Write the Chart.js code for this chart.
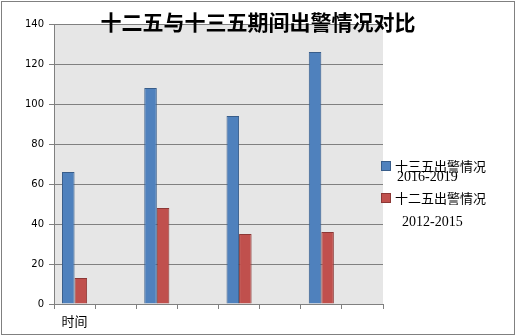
<!DOCTYPE html>
<html lang="zh-cn">
<head>
    <meta charset="UTF-8">
    <title>十二五与十三五期间出警情况对比</title>
    <script src="https://cdn.jsdelivr.net/npm/chart.js"></script>
    <style>
        html, body { margin: 0; padding: 0; background: #fff; }
        #box { width: 516px; height: 336px; }
    </style>
</head>
<body>
    <div id="box"><canvas id="grafico" width="516" height="336"></canvas></div>
<script>
    const titulo = '十二五与十三五期间出警情况对比'
    const categorias = ['时间', '', '', '', '', '', '', '']
    const shisanwu = [66, null, 108, null, 94, null, 126, null]
    const shierwu = [13, null, 48, null, 35, null, 36, null]
    const nomeSerie1 = '十三五出警情况'
    const anosSerie1 = '2016-2019'
    const nomeSerie2 = '十二五出警情况'
    const anosSerie2 = '2012-2015'
    const ticksY = [0, 20, 40, 60, 80, 100, 120, 140]

    const cjk = '"Noto Sans CJK SC", sans-serif'

    // fundo cinza da area do grafico, moldura, titulo e legenda
    const extras = {
        id: 'extras',
        beforeDraw(chart) {
            const { ctx, chartArea: a } = chart
            ctx.save()
            ctx.fillStyle = '#fff'
            ctx.fillRect(0, 0, chart.width, chart.height)
            ctx.fillStyle = '#e6e6e6'
            ctx.fillRect(a.left, a.top, a.right - a.left, a.bottom - a.top)
            ctx.restore()
        },
        afterDraw(chart) {
            const ctx = chart.ctx
            const ds = chart.data.datasets
            ctx.save()
            ctx.strokeStyle = '#808080'
            ctx.lineWidth = 1
            ctx.strokeRect(1.5, 1.5, 513, 333)

            ctx.fillStyle = '#000'
            ctx.font = 'bold 21px ' + cjk
            ctx.textAlign = 'center'
            ctx.textBaseline = 'middle'
            ctx.fillText(titulo, 258, 22)

            // legenda
            ctx.textAlign = 'left'
            const itens = [
                { d: ds[0], y: 161, nome: nomeSerie1, anos: anosSerie1, ax: 397, ay: 177 },
                { d: ds[1], y: 193, nome: nomeSerie2, anos: anosSerie2, ax: 402, ay: 222 }
            ]
            itens.forEach(it => {
                ctx.fillStyle = it.d.backgroundColor
                ctx.fillRect(381, it.y, 10, 10)
                ctx.strokeStyle = it.d.borderColor
                ctx.strokeRect(381.5, it.y + 0.5, 9, 9)
                ctx.fillStyle = '#000'
                ctx.font = '13px ' + cjk
                ctx.fillText(it.nome, 395, it.y + 5)
                ctx.font = '14px "Liberation Serif", serif'
                ctx.fillText(it.anos, it.ax, it.ay)
            })
            ctx.restore()
        }
    }

    new Chart(document.getElementById('grafico'), {
        type: 'bar',
        data: {
            labels: categorias,
            datasets: [{
                label: nomeSerie1,
                data: shisanwu,
                backgroundColor: '#4f81bd',
                borderColor: '#385d8a',
                borderWidth: 1,
                borderSkipped: 'bottom'
            }, {
                label: nomeSerie2,
                data: shierwu,
                backgroundColor: '#c0504d',
                borderColor: '#8c3836',
                borderWidth: 1,
                borderSkipped: 'bottom'
            }]
        },
        options: {
            responsive: false,
            animation: false,
            devicePixelRatio: 1,
            layout: { padding: { left: 0, top: 24, right: 133, bottom: 0 } },
            plugins: {
                legend: { display: false },
                title: { display: false },
                tooltip: { enabled: false }
            },
            datasets: { bar: { categoryPercentage: 0.61, barPercentage: 1, skipNull: false } },
            scales: {
                x: {
                    afterFit(s) { s.height = 32 },
                    grid: {
                        offset: true,
                        drawOnChartArea: false,
                        drawTicks: true,
                        tickLength: 5,
                        color: '#808080'
                    },
                    border: { color: '#808080' },
                    ticks: {
                        color: '#000',
                        padding: 4,
                        maxRotation: 0,
                        autoSkip: false,
                        font: { family: 'Noto Sans CJK SC', size: 13 }
                    }
                },
                y: {
                    min: 0,
                    max: 140,
                    afterFit(s) { s.width = 54 },
                    afterBuildTicks(s) { s.ticks = ticksY.map(v => ({ value: v })) },
                    grid: { color: '#808080', tickLength: 5 },
                    border: { color: '#808080' },
                    ticks: {
                        color: '#000',
                        padding: 5,
                        font: { family: 'DejaVu Sans', size: 10 }
                    }
                }
            }
        },
        plugins: [extras]
    })
</script>
</body>
</html>
